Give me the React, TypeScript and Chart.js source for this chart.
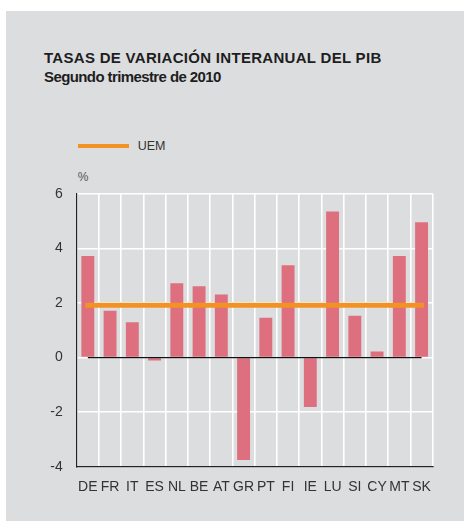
import React, { useEffect, useRef } from "react";
import { Chart, registerables } from "chart.js";

Chart.register(...registerables);

const categories = ["DE", "FR", "IT", "ES", "NL", "BE", "AT", "GR", "PT", "FI", "IE", "LU", "SI", "CY", "MT", "SK"];
const gdpGrowth = [3.72, 1.71, 1.29, -0.11, 2.72, 2.61, 2.31, -3.75, 1.46, 3.38, -1.81, 5.35, 1.53, 0.22, 3.72, 4.96];
const uemGrowth = [1.92, 1.92, 1.92, 1.92, 1.92, 1.92, 1.92, 1.92, 1.92, 1.92, 1.92, 1.92, 1.92, 1.92, 1.92, 1.92];
const zeroLine = [0, 0, 0, 0, 0, 0, 0, 0, 0, 0, 0, 0, 0, 0, 0, 0];
const yTicks = [-4, -2, 0, 2, 4, 6];

const titleText = "TASAS DE VARIACIÓN INTERANUAL DEL PIB";
const subtitleText = "Segundo trimestre de 2010";
const legendLabel = "UEM";
const unitLabel = "%";

const BG = "#dcdddf";
const BAR = "#de6f7e";
const ORANGE = "#f39224";
const FONT = "'Liberation Sans', Arial, Helvetica, sans-serif";

export default function App() {
  const ref = useRef<HTMLCanvasElement | null>(null);

  useEffect(() => {
    if (!ref.current) return;
    const chart = new Chart(ref.current, {
      type: "bar",
      data: {
        labels: categories,
        datasets: [
          {
            type: "line",
            label: legendLabel,
            data: uemGrowth,
            borderColor: ORANGE,
            borderWidth: 5,
            borderCapStyle: "square",
            pointRadius: 0,
            fill: false,
            order: 0,
          } as any,
          {
            type: "line",
            label: "zero",
            data: zeroLine,
            borderColor: "#111111",
            borderWidth: 1.2,
            pointRadius: 0,
            fill: false,
            order: 1,
          } as any,
          {
            type: "bar",
            label: "PIB",
            data: gdpGrowth,
            backgroundColor: BAR,
            borderWidth: 0,
            categoryPercentage: 1,
            barPercentage: 0.58,
            order: 2,
          } as any,
        ],
      },
      options: {
        animation: false,
        responsive: false,
        maintainAspectRatio: false,
        layout: { padding: { left: 0, right: 31.3, top: 13.8, bottom: 20 } },
        plugins: {
          legend: { display: false },
          title: { display: false },
          tooltip: { enabled: false },
        },
        scales: {
          x: {
            offset: true,
            grid: { display: true, color: "#ffffff", lineWidth: 1.6, offset: true, drawTicks: false },
            border: { display: true, color: "#222222", width: 1.2 },
            ticks: {
              color: "#333333",
              font: { family: FONT, size: 14 },
              padding: 12,
              maxRotation: 0,
              autoSkip: false,
            },
            afterFit: (scale: any) => {
              scale.height = 34.3;
              scale.paddingLeft = 0;
              scale.paddingRight = 0;
            },
          },
          y: {
            min: -4,
            max: 6,
            afterBuildTicks: (scale: any) => {
              scale.ticks = yTicks.map((v) => ({ value: v }));
            },
            grid: { color: "#ffffff", lineWidth: 1.6, drawTicks: false },
            border: { display: true, color: "#222222", width: 1.2 },
            ticks: {
              color: "#333333",
              font: { family: FONT, size: 14 },
              padding: 14,
            },
            afterFit: (scale: any) => {
              scale.width = 70.7;
              scale.paddingTop = 0;
              scale.paddingBottom = 0;
            },
          },
        },
      },
    });
    return () => chart.destroy();
  }, []);

  return (
    <div style={{ position: "absolute", left: 0, top: 0, width: 466, height: 521, background: "#ffffff", overflow: "hidden" }}>
      <div style={{ position: "absolute", left: 6, top: 11, width: 458, height: 510, background: BG }} />
      <div
        style={{
          position: "absolute",
          left: 44,
          top: 47.6,
          fontFamily: FONT,
          fontWeight: "bold",
          fontSize: 15,
          lineHeight: "19px",
          color: "#1e1e1e",
          whiteSpace: "nowrap",
        }}
      >
        <div style={{ letterSpacing: "0.3px" }}>{titleText}</div>
        <div style={{ letterSpacing: "-0.6px" }}>{subtitleText}</div>
      </div>
      <div style={{ position: "absolute", left: 77.7, top: 143.7, width: 51.6, height: 4.6, background: ORANGE }} />
      <div
        style={{
          position: "absolute",
          left: 137.7,
          top: 138,
          fontFamily: FONT,
          fontSize: 12.5,
          lineHeight: "16px",
          color: "#333333",
          whiteSpace: "nowrap",
        }}
      >
        {legendLabel}
      </div>
      <div
        style={{
          position: "absolute",
          left: 77.7,
          top: 168.5,
          fontFamily: FONT,
          fontSize: 12,
          lineHeight: "16px",
          color: "#555555",
          whiteSpace: "nowrap",
        }}
      >
        {unitLabel}
      </div>
      <canvas ref={ref} width={458} height={341} style={{ position: "absolute", left: 6, top: 180, width: 458, height: 341 }} />
    </div>
  );
}
